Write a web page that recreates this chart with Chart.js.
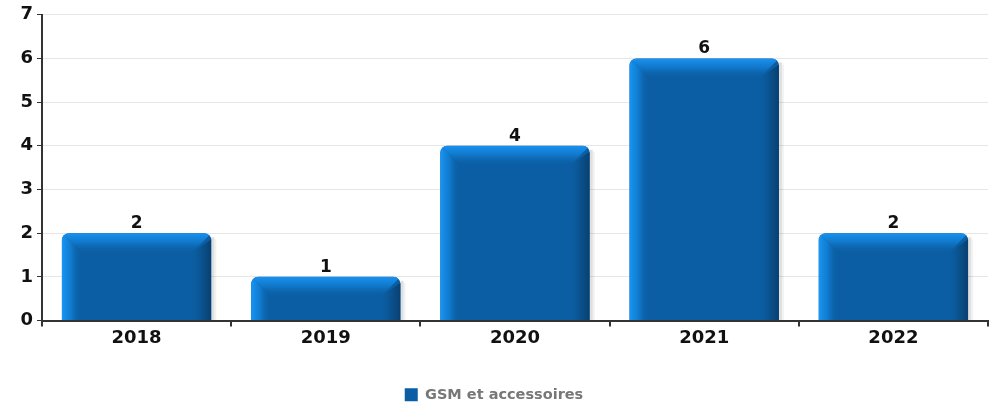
<!DOCTYPE html>
<html>
<head>
<meta charset="utf-8">
<script src="https://cdn.jsdelivr.net/npm/chart.js@4"></script>
<style>
  html, body { margin: 0; padding: 0; background: #fff; }
  #wrap { width: 994px; height: 404px; }
</style>
</head>
<body>
<div id="wrap"><canvas id="chart" width="994" height="404"></canvas></div>
<script>
const years = ["2018", "2019", "2020", "2021", "2022"];
const gsmValues = [2, 1, 4, 6, 2];
const seriesName = "GSM et accessoires";
const yTicks = [0, 1, 2, 3, 4, 5, 6, 7];

/* ---------------- BEVEL LOOK ---------------- */
const bevelPlugin = {
  id: "bevel",
  beforeDatasetsDraw(chart) {
    const ctx = chart.ctx;
    chart.getDatasetMeta(0).data.forEach(bar => {
      const r = bar.x + bar.width / 2;
      ctx.save();
      ctx.fillStyle = "rgba(0,0,0,0.12)";
      ctx.fillRect(r, bar.y + 4, 3, bar.base - bar.y - 4);
      ctx.fillStyle = "rgba(0,0,0,0.05)";
      ctx.fillRect(r + 3, bar.y + 6, 2, bar.base - bar.y - 6);
      ctx.restore();
    });
  },
  afterDatasetsDraw(chart) {
    const ctx = chart.ctx;
    const b = 20;
    chart.getDatasetMeta(0).data.forEach(bar => {
      const l = bar.x - bar.width / 2, r = bar.x + bar.width / 2;
      const t = bar.y, bt = bar.base;
      ctx.save();
      ctx.beginPath();
      ctx.roundRect(l, t, r - l, bt - t, [7, 7, 0, 0]);
      ctx.clip();
      // left strip
      let g = ctx.createLinearGradient(l, 0, l + b, 0);
      g.addColorStop(0, "#1696f4");
      g.addColorStop(0.45, "rgba(18,128,214,0.85)");
      g.addColorStop(1, "rgba(11,94,163,0)");
      ctx.fillStyle = g;
      ctx.beginPath();
      ctx.moveTo(l, t); ctx.lineTo(l + b, t + b); ctx.lineTo(l + b, bt); ctx.lineTo(l, bt);
      ctx.closePath(); ctx.fill();
      // right strip
      g = ctx.createLinearGradient(r - b, 0, r, 0);
      g.addColorStop(0, "rgba(11,90,155,0)");
      g.addColorStop(0.6, "rgba(10,75,130,0.8)");
      g.addColorStop(1, "#083f6e");
      ctx.fillStyle = g;
      ctx.beginPath();
      ctx.moveTo(r, t + b * 0.3); ctx.lineTo(r, bt); ctx.lineTo(r - b, bt); ctx.lineTo(r - b, t + b);
      ctx.closePath(); ctx.fill();
      // top strip
      g = ctx.createLinearGradient(0, t, 0, t + b);
      g.addColorStop(0, "#1892f2");
      g.addColorStop(0.45, "rgba(18,125,210,0.85)");
      g.addColorStop(1, "rgba(11,94,163,0.1)");
      ctx.fillStyle = g;
      ctx.beginPath();
      ctx.moveTo(l, t); ctx.lineTo(r, t); ctx.lineTo(r - b, t + b); ctx.lineTo(l + b, t + b);
      ctx.closePath(); ctx.fill();
      ctx.restore();
    });
  },
  afterDraw(chart) {
    // value labels above bars
    const ctx = chart.ctx;
    ctx.save();
    ctx.font = "bold 17px 'DejaVu Sans'";
    ctx.fillStyle = "#111";
    ctx.textAlign = "center";
    ctx.textBaseline = "bottom";
    chart.getDatasetMeta(0).data.forEach((bar, i) => {
      ctx.fillText(String(gsmValues[i]), bar.x, bar.y - 1);
    });
    ctx.restore();
  }
};

new Chart(document.getElementById("chart"), {
  type: "bar",
  data: {
    labels: years,
    datasets: [{
      label: seriesName,
      data: gsmValues,
      backgroundColor: "#0b5ea3",
      borderRadius: { topLeft: 7, topRight: 7 },
      borderSkipped: "bottom",
      categoryPercentage: 0.79,
      barPercentage: 1
    }]
  },
  options: {
    responsive: false,
    animation: false,
    layout: { padding: { top: 6, right: 6, left: 0, bottom: -8 } },
    plugins: {
      tooltip: { enabled: false },
      legend: {
        position: "bottom",
        labels: {
          boxWidth: 13,
          boxHeight: 13,
          padding: 3,
          color: "#777",
          font: { family: "DejaVu Sans", size: 14.5, weight: "bold" }
        }
      }
    },
    scales: {
      x: {
        afterFit(scale) { scale.height = 64; },
        grid: { offset: true, drawOnChartArea: false, tickLength: 6, tickColor: "#333", lineWidth: 2 },
        border: { color: "#333", width: 2 },
        ticks: { color: "#111", padding: 1, font: { family: "DejaVu Sans", size: 18, weight: "bold" } }
      },
      y: {
        min: 0,
        max: 7,
        afterFit(scale) { scale.width = 42; },
        afterBuildTicks(scale) { scale.ticks = yTicks.map(v => ({ value: v })); },
        grid: { color: "#e6e6e6", tickColor: "#333", tickLength: 5, lineWidth: 1 },
        border: { color: "#333", width: 2 },
        ticks: { color: "#111", padding: 4, font: { family: "DejaVu Sans", size: 18, weight: "bold" } }
      }
    }
  },
  plugins: [bevelPlugin]
});
</script>
</body>
</html>
